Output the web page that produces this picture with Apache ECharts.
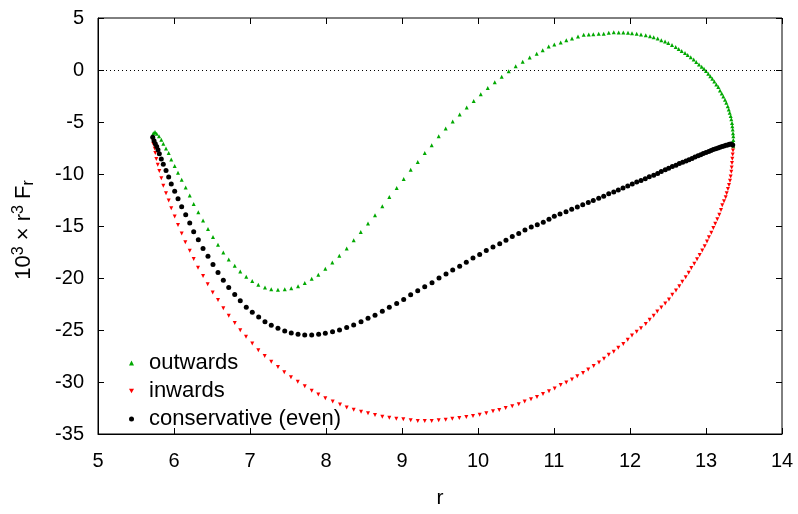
<!DOCTYPE html>
<html>
<head>
    <meta charset="utf-8">
    <title>Fr loop</title>
    <script src="https://cdn.jsdelivr.net/npm/echarts@6/dist/echarts.min.js"></script>
</head>
<body style="margin:0;background:#fff">
    <div id="main" style="width: 798px;height:514px;"></div>
    <script type="text/javascript">
        // values: [r, 1e3 * r^3 * F_r]
        var outwards = [
            [5.728,-6.07],[5.750,-5.97],[5.772,-6.13],[5.803,-6.38],[5.833,-6.70],[5.859,-7.08],[5.895,-7.55],
            [5.930,-7.99],[5.964,-8.60],[6.009,-9.22],[6.053,-9.89],[6.101,-10.55],[6.154,-11.31],[6.207,-12.07],
            [6.259,-12.89],[6.320,-13.68],[6.382,-14.47],[6.447,-15.29],[6.513,-16.05],[6.579,-16.81],[6.649,-17.54],
            [6.720,-18.23],[6.799,-18.83],[6.872,-19.37],[6.951,-19.88],[7.030,-20.28],[7.109,-20.66],[7.197,-20.92],
            [7.280,-21.07],[7.368,-21.14],[7.457,-21.07],[7.543,-20.98],[7.632,-20.79],[7.720,-20.47],[7.812,-20.07],
            [7.899,-19.69],[7.991,-19.12],[8.083,-18.51],[8.175,-17.85],[8.272,-17.16],[8.364,-16.37],[8.457,-15.57],
            [8.553,-14.76],[8.645,-13.96],[8.741,-13.11],[8.833,-12.20],[8.930,-11.35],[9.022,-10.49],[9.114,-9.60],
            [9.207,-8.84],[9.299,-7.99],[9.391,-7.23],[9.483,-6.38],[9.575,-5.62],[9.667,-4.96],[9.759,-4.27],
            [9.851,-3.60],[9.943,-2.97],[10.036,-2.34],[10.128,-1.73],[10.220,-1.17],[10.312,-0.64],[10.404,-0.12],
            [10.496,0.35],[10.588,0.79],[10.680,1.20],[10.772,1.56],[10.851,1.90],[10.930,2.25],[11.004,2.44],
            [11.088,2.65],[11.162,2.87],[11.237,3.03],[11.316,3.22],[11.391,3.38],[11.457,3.41],[11.517,3.44],
            [11.588,3.48],[11.654,3.48],[11.720,3.57],[11.786,3.63],[11.851,3.60],[11.912,3.60],[11.974,3.57],
            [12.026,3.54],[12.088,3.48],[12.145,3.41],[12.207,3.35],[12.263,3.25],[12.312,3.16],[12.364,3.03],
            [12.412,2.87],[12.461,2.75],[12.504,2.59],[12.553,2.40],[12.601,2.21],[12.641,2.02],[12.680,1.83],
            [12.724,1.64],[12.759,1.45],[12.799,1.23],[12.838,1.01],[12.872,0.76],[12.908,0.54],[12.943,0.31],
            [12.974,0.12],[13.000,-0.09],[13.030,-0.35],[13.057,-0.60],[13.083,-0.85],[13.109,-1.11],[13.136,-1.39],
            [13.162,-1.64],[13.184,-1.96],[13.207,-2.25],[13.228,-2.56],[13.250,-2.87],[13.267,-3.16],[13.286,-3.48],
            [13.299,-3.79],[13.312,-4.10],[13.325,-4.43],[13.333,-4.74],[13.342,-5.09],[13.346,-5.40],[13.351,-5.72],
            [13.355,-6.07],[13.359,-6.38],[13.359,-6.73],[13.359,-7.04],[13.359,-7.33]
        ];
        var inwards = [
            [5.720,-6.70],[5.728,-7.11],[5.746,-7.55],[5.754,-7.99],[5.767,-8.56],[5.786,-9.10],[5.807,-9.70],
            [5.833,-10.40],[5.859,-11.12],[5.895,-11.85],[5.930,-12.54],[5.964,-13.30],[6.009,-14.09],[6.053,-14.91],
            [6.101,-15.73],[6.149,-16.56],[6.207,-17.37],[6.259,-18.17],[6.316,-19.02],[6.382,-19.81],[6.443,-20.60],
            [6.509,-21.39],[6.579,-22.11],[6.649,-22.91],[6.720,-23.63],[6.799,-24.33],[6.872,-25.02],[6.947,-25.66],
            [7.030,-26.30],[7.109,-26.95],[7.193,-27.49],[7.280,-28.06],[7.368,-28.56],[7.451,-29.07],[7.539,-29.55],
            [7.628,-29.98],[7.720,-30.40],[7.812,-30.83],[7.899,-31.21],[7.991,-31.56],[8.088,-31.88],[8.184,-32.16],
            [8.272,-32.45],[8.364,-32.67],[8.461,-32.86],[8.553,-33.01],[8.645,-33.18],[8.741,-33.34],[8.833,-33.43],
            [8.925,-33.53],[9.017,-33.58],[9.114,-33.68],[9.207,-33.74],[9.299,-33.74],[9.391,-33.74],[9.483,-33.68],
            [9.575,-33.62],[9.662,-33.53],[9.754,-33.46],[9.846,-33.36],[9.934,-33.27],[10.022,-33.15],[10.109,-33.01],
            [10.197,-32.82],[10.280,-32.70],[10.364,-32.51],[10.451,-32.32],[10.536,-32.13],[10.614,-31.88],[10.697,-31.66],
            [10.776,-31.44],[10.855,-31.16],[10.934,-30.90],[11.009,-30.62],[11.088,-30.30],[11.162,-30.05],[11.237,-29.76],
            [11.307,-29.45],[11.382,-29.13],[11.451,-28.79],[11.522,-28.46],[11.592,-28.12],[11.658,-27.77],[11.720,-27.39],
            [11.786,-27.08],[11.846,-26.70],[11.912,-26.35],[11.970,-25.94],[12.026,-25.53],[12.088,-25.18],[12.145,-24.83],
            [12.207,-24.43],[12.259,-24.01],[12.312,-23.63],[12.359,-23.22],[12.412,-22.84],[12.464,-22.44],[12.513,-22.06],
            [12.557,-21.61],[12.605,-21.20],[12.649,-20.79],[12.688,-20.35],[12.733,-19.93],[12.772,-19.50],[12.807,-19.05],
            [12.846,-18.64],[12.882,-18.20],[12.917,-17.79],[12.951,-17.35],[12.983,-16.94],[13.013,-16.49],[13.039,-16.09],
            [13.070,-15.64],[13.096,-15.19],[13.122,-14.79],[13.149,-14.34],[13.175,-13.91],[13.197,-13.46],[13.214,-13.01],
            [13.237,-12.61],[13.259,-12.23],[13.272,-11.85],[13.289,-11.44],[13.303,-11.06],[13.316,-10.64],[13.325,-10.24],
            [13.333,-9.79],[13.338,-9.38],[13.342,-8.94],[13.346,-8.53],[13.351,-8.12],[13.355,-7.74],[13.359,-7.33]
        ];
        var conservative = [
            [5.720,-6.47],[5.737,-6.80],[5.754,-7.08],[5.772,-7.36],[5.789,-7.68],[5.807,-8.06],[5.833,-8.56],
            [5.859,-9.07],[5.895,-9.67],[5.930,-10.30],[5.964,-10.97],[6.009,-11.66],[6.053,-12.39],[6.101,-13.15],
            [6.154,-13.93],[6.207,-14.72],[6.259,-15.55],[6.320,-16.33],[6.382,-17.16],[6.447,-17.91],[6.513,-18.70],
            [6.579,-19.46],[6.649,-20.22],[6.720,-20.92],[6.799,-21.58],[6.872,-22.18],[6.951,-22.82],[7.030,-23.29],
            [7.114,-23.76],[7.197,-24.20],[7.280,-24.55],[7.368,-24.83],[7.457,-25.09],[7.543,-25.28],[7.632,-25.40],
            [7.720,-25.47],[7.812,-25.47],[7.903,-25.40],[7.991,-25.31],[8.086,-25.18],[8.178,-24.99],[8.272,-24.77],
            [8.364,-24.52],[8.461,-24.20],[8.553,-23.86],[8.645,-23.57],[8.741,-23.19],[8.833,-22.82],[8.930,-22.44],
            [9.022,-22.06],[9.114,-21.61],[9.207,-21.23],[9.299,-20.85],[9.395,-20.45],[9.487,-20.00],[9.579,-19.62],
            [9.667,-19.24],[9.759,-18.86],[9.846,-18.48],[9.934,-18.08],[10.022,-17.73],[10.109,-17.35],[10.197,-17.03],
            [10.286,-16.71],[10.368,-16.37],[10.451,-16.02],[10.536,-15.71],[10.618,-15.38],[10.701,-15.10],[10.780,-14.88],
            [10.859,-14.63],[10.934,-14.34],[11.004,-14.06],[11.079,-13.84],[11.158,-13.62],[11.233,-13.39],[11.307,-13.18],
            [11.378,-12.96],[11.451,-12.73],[11.517,-12.54],[11.588,-12.32],[11.654,-12.13],[11.720,-11.91],[11.786,-11.73],
            [11.846,-11.54],[11.908,-11.35],[11.970,-11.16],[12.030,-10.97],[12.088,-10.78],[12.145,-10.62],[12.201,-10.45],
            [12.254,-10.27],[12.312,-10.11],[12.364,-9.95],[12.412,-9.76],[12.464,-9.60],[12.509,-9.45],[12.557,-9.29],
            [12.605,-9.17],[12.649,-9.00],[12.693,-8.88],[12.737,-8.75],[12.776,-8.63],[12.816,-8.50],[12.855,-8.37],
            [12.895,-8.25],[12.930,-8.15],[12.964,-8.03],[13.000,-7.93],[13.036,-7.84],[13.066,-7.74],[13.096,-7.65],
            [13.128,-7.58],[13.158,-7.49],[13.184,-7.42],[13.211,-7.36],[13.237,-7.30],[13.263,-7.23],[13.286,-7.20],
            [13.307,-7.14],[13.329,-7.11],[13.351,-7.20]
        ];
        var seriesNames = ['outwards', 'inwards', 'conservative (even)'];

        var myChart = echarts.init(document.getElementById('main'));
        var font = 'Liberation Sans, Arial, sans-serif';
        var downTri = 'path://M0,0L10,0L5,9z';

        var tickStyle = { show: true, inside: true, length: 6, lineStyle: { color: '#000' } };
        var option = {
            animation: false,
            textStyle: { fontFamily: font },
            grid: { left: 98, right: 16, top: 18, bottom: 74, show: true, borderColor: '#000', borderWidth: 1 },
            legend: {
                orient: 'vertical', left: 124, top: 347, itemGap: 6,
                itemWidth: 5, itemHeight: 5,
                textStyle: { fontSize: 22, color: '#000', fontFamily: font, padding: [0, 0, 0, 10] },
                data: [
                    { name: seriesNames[0], icon: 'triangle' },
                    { name: seriesNames[1], icon: downTri },
                    { name: seriesNames[2], icon: 'circle' }
                ]
            },
            xAxis: [{
                type: 'value', min: 5, max: 14, interval: 1,
                name: 'r', nameLocation: 'middle', nameGap: 54,
                nameTextStyle: { fontSize: 21, color: '#000', fontFamily: font },
                axisLine: { show: true, onZero: false, lineStyle: { color: '#000' } },
                axisTick: tickStyle,
                axisLabel: { fontSize: 20, color: '#000', margin: 17, fontFamily: font },
                splitLine: { show: false }
            }, {
                type: 'value', min: 5, max: 14, interval: 1, position: 'top',
                axisLine: { show: false, onZero: false }, axisTick: tickStyle,
                axisLabel: { show: false }, splitLine: { show: false }
            }],
            yAxis: [{
                type: 'value', min: -35, max: 5, interval: 5,
                name: '10{sup|3} \u00d7 r{sup|3} F{sub|r}', nameLocation: 'middle', nameGap: 61,
                nameTextStyle: {
                    fontSize: 22, color: '#000', fontFamily: font, padding: [0, 8, 0, 0],
                    rich: {
                        sup: { fontSize: 16, verticalAlign: 'top', padding: [0, 0, 10, 0], fontFamily: font, color: '#000' },
                        sub: { fontSize: 16, verticalAlign: 'bottom', padding: [8, 0, 0, 0], fontFamily: font, color: '#000' }
                    }
                },
                axisLine: { show: true, onZero: false, lineStyle: { color: '#000' } },
                axisTick: tickStyle,
                axisLabel: { fontSize: 20, color: '#000', margin: 14, fontFamily: font },
                splitLine: { show: false }
            }, {
                type: 'value', min: -35, max: 5, interval: 5, position: 'right',
                axisLine: { show: false, onZero: false }, axisTick: tickStyle,
                axisLabel: { show: false }, splitLine: { show: false }
            }],
            series: [{
                name: seriesNames[0], type: 'scatter', data: outwards,
                symbol: 'triangle', symbolSize: 4,
                itemStyle: { color: '#00a800', opacity: 1 },
                markLine: {
                    silent: true, symbol: 'none', label: { show: false },
                    lineStyle: { color: '#000', type: [1, 3], width: 1, opacity: 1 },
                    emphasis: { disabled: true },
                    data: [{ yAxis: 0 }]
                }
            }, {
                name: seriesNames[1], type: 'scatter', data: inwards,
                symbol: downTri, symbolSize: [4, 4],
                itemStyle: { color: '#ff0000', opacity: 1 }
            }, {
                name: seriesNames[2], type: 'scatter', data: conservative,
                symbol: 'circle', symbolSize: 5,
                itemStyle: { color: '#000', opacity: 1 }
            }]
        };
        myChart.setOption(option);
    </script>
</body>
</html>
